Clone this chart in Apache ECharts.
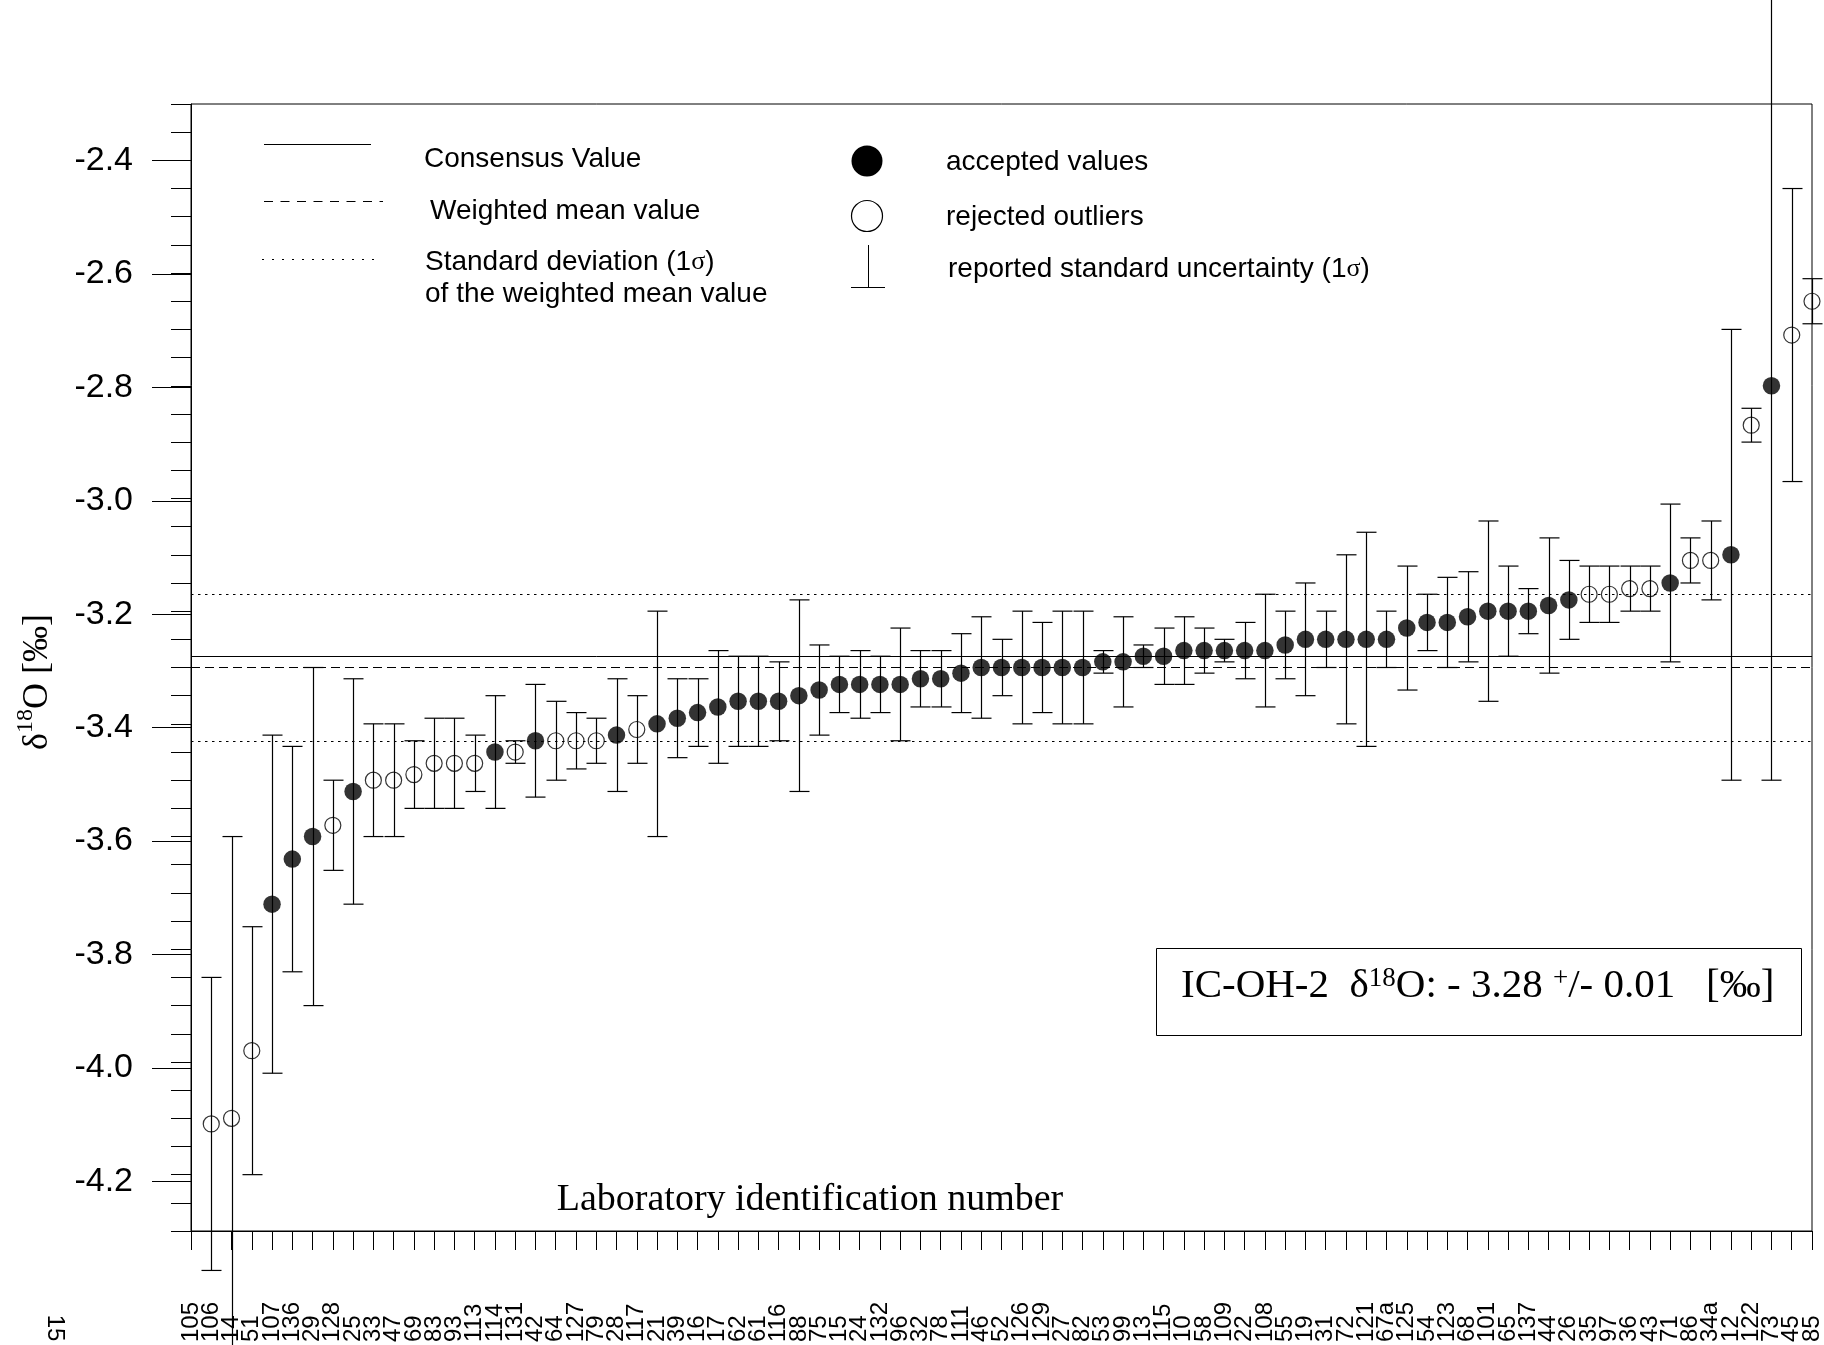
<!DOCTYPE html>
<html><head><meta charset="utf-8">
<script src="https://cdn.jsdelivr.net/npm/echarts@6/dist/echarts.min.js"></script>
<style>html,body{margin:0;padding:0;background:#fff}#c{width:1824px;height:1345px}</style>
</head><body><div id="c"></div>
<script>
// Laboratory identification numbers (category ticks, left to right)
const labels = ['105','106','14','51','107','136','29','128','25','33','47','69','83','93','113','114','131','42','64','127','79','28','117','21','39','16','17','62','61','116','88','75','15','24','132','96','32','78','111','46','52','126','129','27','82','53','99','13','115','10','58','109','22','108','55','19','31','72','121','67a','125','54','123','68','101','65','137','44','26','35','97','36','43','71','86','34a','12','122','73','45','85'];
// reported delta18O values (points sit on category ticks 1..80)
const values = [-4.11,-4.10,-3.98,-3.72,-3.64,-3.60,-3.58,-3.52,-3.50,-3.50,
 -3.49,-3.47,-3.47,-3.47,-3.45,-3.45,-3.43,-3.43,-3.43,-3.43,
 -3.42,-3.41,-3.40,-3.39,-3.38,-3.37,-3.36,-3.36,-3.36,-3.35,
 -3.34,-3.33,-3.33,-3.33,-3.33,-3.32,-3.32,-3.31,-3.30,-3.30,
 -3.30,-3.30,-3.30,-3.30,-3.29,-3.29,-3.28,-3.28,-3.27,-3.27,
 -3.27,-3.27,-3.27,-3.26,-3.25,-3.25,-3.25,-3.25,-3.25,-3.23,
 -3.22,-3.22,-3.21,-3.20,-3.20,-3.20,-3.19,-3.18,-3.17,-3.17,
 -3.16,-3.16,-3.15,-3.11,-3.11,-3.10,-2.87,-2.80,-2.71,-2.65];
// reported standard uncertainty (1 sigma)
const uncertainties = [0.26,0.50,0.22,0.30,0.20,0.30,0.08,0.20,0.10,0.10,
 0.06,0.08,0.08,0.05,0.10,0.02,0.10,0.07,0.05,0.04,
 0.10,0.06,0.20,0.07,0.06,0.10,0.08,0.08,0.07,0.17,
 0.08,0.05,0.06,0.05,0.10,0.05,0.05,0.07,0.09,0.05,
 0.10,0.08,0.10,0.10,0.02,0.08,0.02,0.05,0.06,0.04,
 0.02,0.05,0.10,0.06,0.10,0.05,0.15,0.19,0.05,0.11,
 0.05,0.08,0.08,0.16,0.08,0.04,0.12,0.07,0.05,0.05,
 0.04,0.04,0.14,0.04,0.07,0.40,0.03,0.70,0.26,0.04];
// A = accepted value, R = rejected outlier
const status = ['R','R','R','A','A','A','R','A','R','R',
 'R','R','R','R','A','R','A','R','R','R',
 'A','R','A','A','A','A','A','A','A','A',
 'A','A','A','A','A','A','A','A','A','A',
 'A','A','A','A','A','A','A','A','A','A',
 'A','A','A','A','A','A','A','A','A','A',
 'A','A','A','A','A','A','A','A','R','R',
 'R','R','A','R','R','A','R','A','R','R'];
const yTickLabels = [-4.2,-4.0,-3.8,-3.6,-3.4,-3.2,-3.0,-2.8,-2.6,-2.4];
const consensusValue = -3.284;
const weightedMean = -3.302;
const sdBand = [-3.167, -3.428];   // weighted mean +/- 1 sigma, as drawn

const FS = 'Liberation Sans', FSerif = 'Liberation Serif';
const chart = echarts.init(document.getElementById('c'), null, {renderer:'canvas'});

const errData = values.map((v,k)=>[k+1, v-uncertainties[k], v+uncertainties[k]]);
const accData = values.map((v,k)=>status[k]==='A'?[k+1,v]:null).filter(Boolean);
const rejData = values.map((v,k)=>status[k]==='R'?[k+1,v]:null).filter(Boolean);

function renderErr(params, api){
  const x = api.value(0);
  const lo = api.coord([x, api.value(1)]);
  const hi = api.coord([x, api.value(2)]);
  const hw = 10;
  const st = {stroke:'#000', lineWidth:1.2};
  const cx = Math.round(lo[0])+0.5;
  return {type:'group', children:[
    {type:'line', shape:{x1:cx,y1:lo[1],x2:cx,y2:hi[1]}, style:st},
    {type:'line', shape:{x1:cx-hw,y1:lo[1],x2:cx+hw,y2:lo[1]}, style:st},
    {type:'line', shape:{x1:cx-hw,y1:hi[1],x2:cx+hw,y2:hi[1]}, style:st}
  ]};
}

const gridRect = {left:191, right:11.5, top:104, bottom:107};
const leg = {stroke:'#000', lineWidth:1};
const tx = (text,x,y,extra)=>Object.assign({type:'text', x, y, style:Object.assign({text, fill:'#000', fontSize:28, fontFamily:FS, verticalAlign:'middle', align:'left'}, extra||{})});

chart.setOption({
  animation:false,
  backgroundColor:'#fff',
  grid:[Object.assign({show:true, borderColor:'#000', borderWidth:1, backgroundColor:'transparent'}, gridRect),
        Object.assign({show:false}, gridRect)],
  xAxis:[
    {type:'category', gridIndex:0, data:labels, boundaryGap:false, position:'bottom',
     axisLine:{show:true, lineStyle:{color:'#000', width:1}},
     axisTick:{show:true, interval:0, length:19, lineStyle:{color:'#000', width:1}},
     axisLabel:{interval:0, rotate:90, align:'left', verticalAlign:'middle', margin:111, fontSize:24, fontFamily:FS, color:'#000', hideOverlap:false},
     splitLine:{show:false}},
    {type:'value', gridIndex:1, show:false, min:0, max:1}
  ],
  yAxis:[
    {type:'value', gridIndex:0, min:-4.3, max:-2.3, interval:0.05,
     axisLine:{show:true, lineStyle:{color:'#000', width:1}},
     axisTick:{show:true, length:20, lineStyle:{color:'#000', width:1}},
     axisLabel:{show:false}, splitLine:{show:false}},
    {type:'value', gridIndex:1, min:-4.3, max:-2.3,
     axisLine:{show:false},
     axisTick:{show:true, customValues:yTickLabels, length:39, lineStyle:{color:'#000', width:1}},
     axisLabel:{show:true, customValues:yTickLabels, formatter:v=>Number(v).toFixed(1), fontSize:34, fontFamily:FS, color:'#000', margin:58},
     splitLine:{show:false}}
  ],
  series:[
    {type:'custom', xAxisIndex:0, yAxisIndex:0, renderItem:renderErr, data:errData, encode:{x:0, y:[1,2]}, clip:false, z:2, silent:true,
     markLine:{silent:true, symbol:'none', label:{show:false}, animation:false,
       data:[
        {yAxis:consensusValue, lineStyle:{type:'solid', color:'#000', width:1}},
        {yAxis:weightedMean, lineStyle:{type:[9,5], color:'#000', width:1}},
        {yAxis:sdBand[0], lineStyle:{type:[2.5,4.5], color:'#000', width:1}},
        {yAxis:sdBand[1], lineStyle:{type:[2.5,4.5], color:'#000', width:1}}
       ]}},
    {type:'scatter', xAxisIndex:0, yAxisIndex:0, data:accData, symbol:'circle', symbolSize:17.5, itemStyle:{color:'#000'}, z:4, clip:false},
    {type:'scatter', xAxisIndex:0, yAxisIndex:0, data:rejData, symbol:'circle', symbolSize:16, itemStyle:{color:'rgba(0,0,0,0)', borderColor:'#000', borderWidth:1.2}, z:4, clip:false}
  ],
  graphic:[
    // legend, left block
    {type:'line', shape:{x1:264,y1:144.5,x2:371,y2:144.5}, style:leg},
    tx('Consensus Value', 424, 159),
    {type:'line', shape:{x1:264,y1:201.5,x2:383,y2:201.5}, style:Object.assign({lineDash:[9,7.5]}, leg)},
    tx('Weighted mean value', 430, 211),
    {type:'line', shape:{x1:262,y1:259.5,x2:380,y2:259.5}, style:Object.assign({lineDash:[2,8]}, leg)},
    tx('Standard deviation (1{g|σ})', 425, 262, {rich:{g:{fontFamily:FSerif, fontSize:26}}}),
    tx('of the weighted mean value', 425, 294),
    // legend, right block
    {type:'circle', shape:{cx:867, cy:161, r:15.5}, style:{fill:'#000'}},
    tx('accepted values', 946, 162),
    {type:'circle', shape:{cx:867, cy:216, r:15.5}, style:{fill:'none', stroke:'#000', lineWidth:1.2}},
    tx('rejected outliers', 946, 217),
    {type:'line', shape:{x1:868.5,y1:245,x2:868.5,y2:287}, style:leg},
    {type:'line', shape:{x1:851,y1:287.5,x2:885,y2:287.5}, style:leg},
    tx('reported standard uncertainty (1{g|σ})', 948, 269, {rich:{g:{fontFamily:FSerif, fontSize:26}}}),
    // result box
    {type:'rect', shape:{x:1156.5, y:948.5, width:645, height:87}, style:{fill:'#fff', stroke:'#000', lineWidth:1}, z:10},
    {type:'text', x:1181, y:986, z:11, style:{text:'{a|IC-OH-2  δ}{s|18}{a|O: - 3.28 }{s|+}{a|/- 0.01   [‰]}', fill:'#000', align:'left', verticalAlign:'middle',
      rich:{a:{fontSize:41, fontFamily:FSerif, verticalAlign:'bottom'}, s:{fontSize:27, fontFamily:FSerif, verticalAlign:'bottom', padding:[0,0,15,0]}}}},
    // axis titles
    {type:'text', x:810, y:1200, style:{text:'Laboratory identification number', fill:'#000', fontSize:38, fontFamily:FSerif, align:'center', verticalAlign:'middle'}},
    {type:'text', x:35, y:682, rotation:Math.PI/2, style:{text:'{a|δ}{s|18}{a|O [‰]}', fill:'#000', align:'center', verticalAlign:'middle',
      rich:{a:{fontSize:36, fontFamily:FSerif, verticalAlign:'bottom'}, s:{fontSize:24, fontFamily:FSerif, verticalAlign:'bottom', padding:[0,0,18,0]}}}},
    {type:'text', x:55, y:1328, rotation:-Math.PI/2, style:{text:'15', fill:'#000', fontSize:24, fontFamily:FS, align:'center', verticalAlign:'middle'}}
  ]
});
</script></body></html>
